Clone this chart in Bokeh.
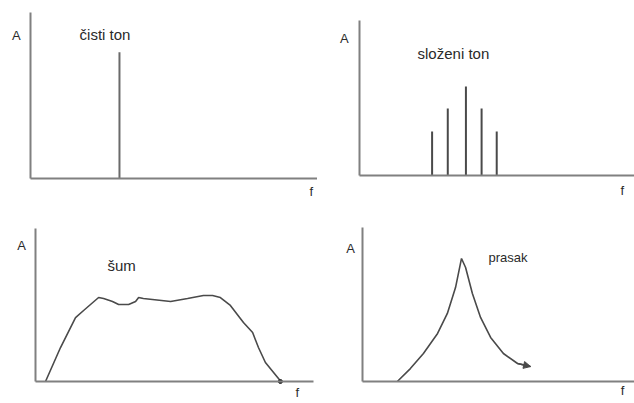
from bokeh.plotting import figure
from bokeh.layouts import column, row
from bokeh.models import Label, Range1d, FixedTicker, Arrow, NormalHead
from bokeh.embed import file_html
from bokeh.resources import INLINE

# ---- data ----
tone_f = [31.0]
tone_a = [76.0]

complex_f = [26.4, 32.1, 38.7, 44.4, 49.9]
complex_a = [28.4, 43.2, 57.4, 43.2, 28.4]

noise_f = [3.6, 9.0, 14.4, 17.3, 22.7, 24.5, 27.7, 29.9, 33.5, 36.0, 37.1, 38.8,
           48.6, 54.7, 60.4, 63.7, 66.5, 70.1, 74.8, 78.1, 80.2, 82.7, 87.4, 88.1]
noise_a = [0.0, 22.2, 41.8, 46.4, 54.9, 54.2, 52.3, 50.3, 50.3, 52.3, 54.9, 54.2,
           52.3, 54.2, 56.2, 56.2, 54.9, 49.7, 38.6, 32.0, 22.2, 12.4, 2.0, 0.0]

crack_f = [12.8, 17.6, 22.4, 27.6, 31.2, 34.2, 36.4, 37.9, 40.4, 43.4, 47.1, 51.8, 57.0, 61.8]
crack_a = [0.0, 8.4, 18.2, 31.2, 44.2, 61.0, 79.9, 74.0, 57.1, 41.6, 28.6, 18.2, 11.7, 9.7]

titles = ["čisti ton", "složeni ton", "šum", "prasak"]
axis_y_label = "A"
axis_x_label = "f"

FONT = "Liberation Sans"
TXT = "#2a2a2a"
AXC = "#808080"
LNC = "#4a4a4a"


def make_panel(w, h, ox, oy, sx, sy, xlen=100, ylen=100):
    """w,h: figure size; (ox, oy): pixel position of the origin from the
    figure's top-left; sx, sy: pixels per data unit."""
    xr = Range1d(-ox / sx, (w - ox) / sx)
    yr = Range1d(-(h - oy) / sy, oy / sy)
    p = figure(width=w, height=h, output_backend="svg", toolbar_location=None,
               x_range=xr, y_range=yr)
    p.min_border = 0
    p.min_border_left = 0
    p.min_border_right = 0
    p.min_border_top = 0
    p.min_border_bottom = 0
    p.grid.visible = False
    p.outline_line_color = None
    p.background_fill_color = "white"
    p.border_fill_color = "white"
    for ax, bnd in ((p.xaxis[0], (0, xlen)), (p.yaxis[0], (0, ylen))):
        ax.ticker = FixedTicker(ticks=[])
        ax.major_label_text_font_size = "0px"
        ax.major_tick_line_color = None
        ax.minor_tick_line_color = None
        ax.major_tick_out = 0
        ax.major_tick_in = 0
        ax.minor_tick_out = 0
        ax.minor_tick_in = 0
        ax.major_label_standoff = 0
        ax.axis_line_color = AXC
        ax.axis_line_width = 2
        ax.fixed_location = 0
        ax.bounds = bnd
    return p


def lab(p, x, y, t, size, align="center", baseline="middle"):
    p.add_layout(Label(x=x, y=y, text=t, text_font=FONT, text_font_size=size,
                       text_color=TXT, text_align=align, text_baseline=baseline))


# top-left: pure tone
p1 = make_panel(317, 200, 30, 178, 2.87, 1.66, xlen=100)
p1.segment(x0=tone_f, y0=[0] * len(tone_f), x1=tone_f, y1=tone_a,
           line_color="#6a6a6a", line_width=2)
lab(p1, -4.9, 86.1, axis_y_label, "13px")
lab(p1, 17.1, 86.6, titles[0], "15px", align="left")
lab(p1, 97.8, -7.8, axis_x_label, "13px")

# top-right: complex tone
p2 = make_panel(317, 200, 42, 175, 2.75, 1.55, xlen=100)
p2.segment(x0=complex_f, y0=[0] * len(complex_f), x1=complex_f, y1=complex_a,
           line_color=LNC, line_width=2)
lab(p2, -5.5, 88.4, axis_y_label, "13px")
lab(p2, 21.1, 78.7, titles[1], "15px", align="left")
lab(p2, 95.6, -9.7, axis_x_label, "13px")

# bottom-left: noise
p3 = make_panel(317, 203, 35, 181, 2.78, 1.53, xlen=100)
p3.line(noise_f, noise_a, line_color=LNC, line_width=1.6)
p3.scatter(noise_f[-1:], noise_a[-1:], size=4, color="#222222")
lab(p3, -5.0, 88.9, axis_y_label, "13px")
lab(p3, 25.9, 75.8, titles[2], "15px", align="left")
lab(p3, 94.2, -7.2, axis_x_label, "13px")

# bottom-right: crack
p4 = make_panel(317, 203, 45, 181, 2.72, 1.54, xlen=100)
p4.line(crack_f, crack_a, line_color=LNC, line_width=1.6)
p4.add_layout(Arrow(end=NormalHead(size=7, fill_color=LNC, line_color=LNC),
                    x_start=crack_f[-2], y_start=crack_a[-2],
                    x_end=crack_f[-1], y_end=crack_a[-1],
                    line_color=LNC, line_width=1.6))
lab(p4, -4.4, 86.4, axis_y_label, "13px")
lab(p4, 46.3, 80.5, titles[3], "13px", align="left")
lab(p4, 95.6, -5.8, axis_x_label, "13px")

layout = column(row(p1, p2), row(p3, p4))

open("out.html", "w").write(file_html(layout, INLINE))
